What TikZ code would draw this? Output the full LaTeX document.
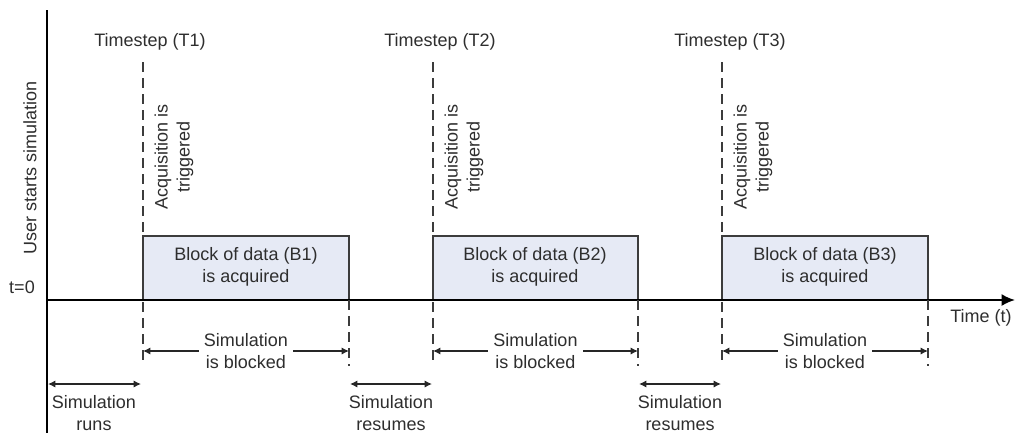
\documentclass[tikz,border=0pt]{standalone}
\usepackage{fontspec}
\setmainfont{Liberation Sans}
\usetikzlibrary{arrows.meta}
\definecolor{txtgray}{HTML}{2E2E2E}
\definecolor{blockfill}{HTML}{E6EAF5}
\definecolor{blockline}{HTML}{3C3C3C}
\tikzset{
  lbl/.style={text=txtgray,inner sep=1pt,align=center,font=\fontsize{13.5}{16.5}\selectfont},
  tline/.style={dash pattern=on 7.5pt off 4.5pt,line width=1.1pt,color=blockline},
  blockbox/.style={fill=blockfill,draw=blockline,line width=1.1pt},
  span/.style={{Latex[length=5.5pt,width=5.5pt]}-{Latex[length=5.5pt,width=5.5pt]},line width=1.1pt,color=black!85}
}
\begin{document}
\begin{tikzpicture}[x=0.75pt,y=-0.75pt]
  \useasboundingbox (0,0) rectangle (1016,433);
  % axes
  \coordinate (o) at (47,300);
  \coordinate (ytop) at (47,10);
  \coordinate (ybot) at (47,433);
  \coordinate (xend) at (1015,300);
  % blocks of data
  \draw[blockbox] (143,236) rectangle (349,300);
  \draw[blockbox] (433,236) rectangle (638,300);
  \draw[blockbox] (722,236) rectangle (928,300);
  \node[lbl] (b1) at (246,267) {Block of data (B1)\\is acquired};
  \node[lbl] (b2) at (535,267) {Block of data (B2)\\is acquired};
  \node[lbl] (b3) at (825,267) {Block of data (B3)\\is acquired};
  \draw[line width=1.5pt] (ytop) -- (ybot);
  \draw[line width=1.6pt,-{Latex[length=10pt,width=9pt]}] (o) -- (xend);
  \node[lbl,rotate=90] (user) at (30,168) {User starts simulation};
  \node[lbl] (tzero) at (22,287) {t=0};
  \node[lbl] (time) at (981,318) {Time (t)};
  % timesteps
  \node[lbl] (ts1) at (150,42) {Timestep (T1)};
  \node[lbl] (ts2) at (440,42) {Timestep (T2)};
  \node[lbl] (ts3) at (730,42) {Timestep (T3)};
  \coordinate (t1top) at (143,62);  \coordinate (t1bot) at (143,366);
  \coordinate (t2top) at (433,62);  \coordinate (t2bot) at (433,366);
  \coordinate (t3top) at (722,62);  \coordinate (t3bot) at (722,366);
  \draw[tline] (t1top) -- (t1bot);
  \draw[tline] (t2top) -- (t2bot);
  \draw[tline] (t3top) -- (t3bot);
  \coordinate (r1top) at (349,300); \coordinate (r1bot) at (349,366);
  \coordinate (r2top) at (638,300); \coordinate (r2bot) at (638,366);
  \coordinate (r3top) at (928,300); \coordinate (r3bot) at (928,366);
  \draw[tline] (r1top) -- (r1bot);
  \draw[tline] (r2top) -- (r2bot);
  \draw[tline] (r3top) -- (r3bot);
  \node[lbl,rotate=90] (acq1) at (174,157) {Acquisition is\\triggered};
  \node[lbl,rotate=90] (acq2) at (464,157) {Acquisition is\\triggered};
  \node[lbl,rotate=90] (acq3) at (753,157) {Acquisition is\\triggered};
  % simulation is blocked
  \coordinate (k1a) at (143,351); \coordinate (k1b) at (349,351);
  \coordinate (k2a) at (433,351); \coordinate (k2b) at (638,351);
  \coordinate (k3a) at (722,351); \coordinate (k3b) at (928,351);
  \draw[span] (k1a) -- node[lbl,fill=white,inner xsep=4pt] (blk1) {Simulation\\is blocked} (k1b);
  \draw[span] (k2a) -- node[lbl,fill=white,inner xsep=4pt] (blk2) {Simulation\\is blocked} (k2b);
  \draw[span] (k3a) -- node[lbl,fill=white,inner xsep=4pt] (blk3) {Simulation\\is blocked} (k3b);
  % simulation runs / resumes
  \coordinate (s0a) at (48,384);  \coordinate (s0b) at (141,384);
  \coordinate (s1a) at (350,384); \coordinate (s1b) at (432,384);
  \coordinate (s2a) at (639,384); \coordinate (s2b) at (721,384);
  \draw[span] (s0a) -- (s0b);
  \draw[span] (s1a) -- (s1b);
  \draw[span] (s2a) -- (s2b);
  \node[lbl] (runs) at (94,413) {Simulation\\runs};
  \node[lbl] (res1) at (391,413) {Simulation\\resumes};
  \node[lbl] (res2) at (680,413) {Simulation\\resumes};
\end{tikzpicture}
\end{document}
